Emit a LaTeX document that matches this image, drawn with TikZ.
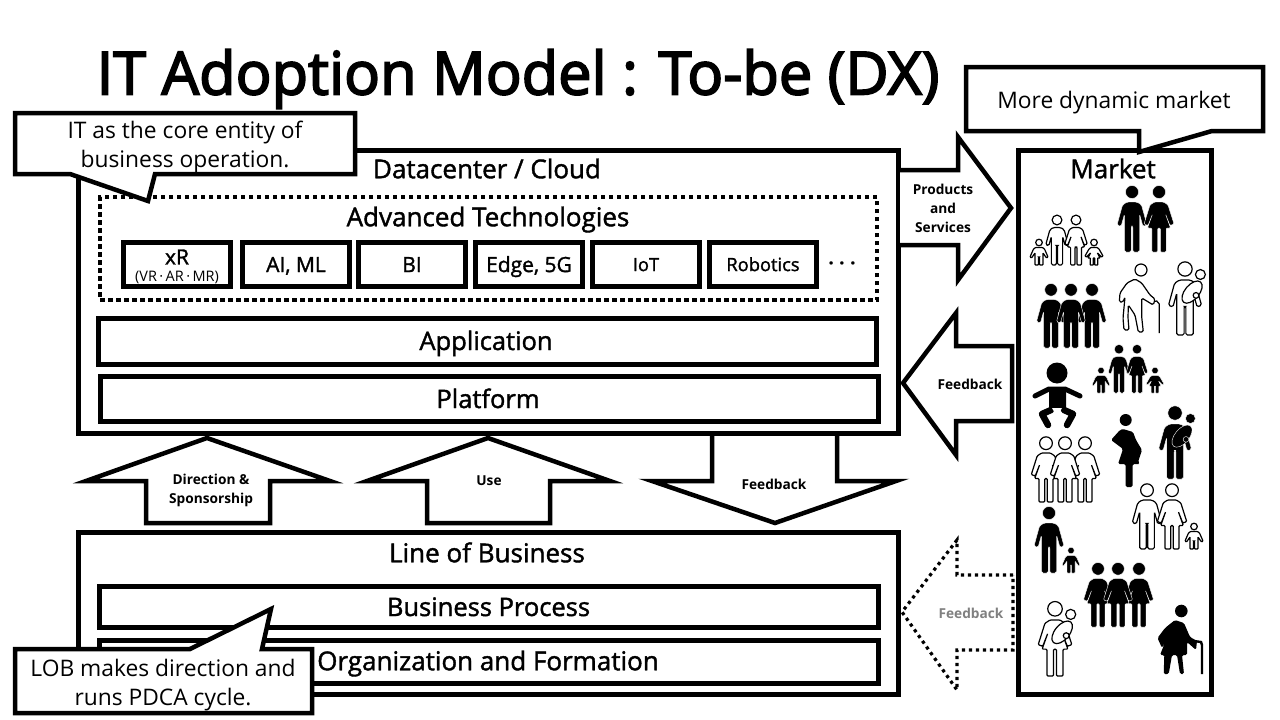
\documentclass[tikz,border=0pt]{standalone}
\usepackage{fontspec}
\setmainfont{Open Sans}
\newfontfamily\semifont[FakeBold=3]{Open Sans}
\newfontfamily\midfont[FakeBold=1.5]{Open Sans}
\tikzset{
	boxline/.style={draw,line width=4.5pt,fill=white},
	blockbox/.style={draw,line width=5pt,fill=white,inner sep=0pt},
	techbox/.style={draw,line width=5pt,fill=white,inner sep=0pt,minimum width=106.5pt,minimum height=44.5pt},
	blockarrow/.style={draw,line width=4.5pt,fill=white,miter limit=20},
	dotline/.style={line width=4.5pt,dash pattern=on 4.5pt off 3.5pt},
	headtext/.style={inner sep=0pt,text height=18.5pt,text depth=0pt,font=\midfont\fontsize{26}{26}\selectfont},
	boxtext/.style={inner sep=0pt,text height=18pt,text depth=0pt,font=\midfont\fontsize{25.5}{25.5}\selectfont},
	arrowtext/.style={inner sep=0pt,align=center,font=\bfseries\fontsize{13.7}{19}\selectfont},
	calltext/.style={inner sep=0pt,align=center,font=\fontsize{22.8}{29}\selectfont},
	solidfig/.style={fill=black,draw=white,line width=.4pt},
	linefig/.style={fill=white,draw=black,line width=1.2pt},
	pics/man/.style={code={
		\path[#1,rounded corners=1.5pt] (-5,-50) -- (5,-50) -- (9.5,-47) -- (15,-27) -- (11,-25.5) -- (7.5,-38) -- (7.5,0) -- (.8,0) -- (.8,-26) -- (-.8,-26) -- (-.8,0) -- (-7.5,0) -- (-7.5,-38) -- (-11,-25.5) -- (-15,-27) -- (-9.5,-47) -- cycle;
		\path[#1] (0,-60) circle (6.5);
	}},
	pics/woman/.style={code={
		\path[#1,rounded corners=1pt] (-4.5,-50) -- (4.5,-50) -- (9,-47) -- (15,-28) -- (11,-26.5) -- (6.5,-38) -- (11.5,-24) -- (7.2,-24) -- (7.2,0) -- (1.3,0) -- (1.3,-24) -- (-1.3,-24) -- (-1.3,0) -- (-7.2,0) -- (-7.2,-24) -- (-11.5,-24) -- (-6.5,-38) -- (-11,-26.5) -- (-15,-28) -- (-9,-47) -- cycle;
		\path[#1] (0,-60) circle (6.5);
	}},
	pics/boy/.style={code={
		\path[#1,rounded corners=.7pt] (-3.5,-17.5) -- (3.5,-17.5) -- (5.5,-16) -- (9,-8) -- (7.5,-7) -- (4,-12) -- (4,0) -- (.5,0) -- (.5,-8) -- (-.5,-8) -- (-.5,0) -- (-4,0) -- (-4,-12) -- (-7.5,-7) -- (-9,-8) -- (-5.5,-16) -- cycle;
		\path[#1] (0,-22.5) circle (3.3);
	}},
	pics/girl/.style={code={
		\path[#1,rounded corners=.5pt] (-3,-17.5) -- (3,-17.5) -- (5,-16) -- (9,-9) -- (7.5,-8) -- (3.5,-12) -- (6,-7) -- (3.8,-7) -- (3.8,0) -- (.7,0) -- (.7,-7) -- (-.7,-7) -- (-.7,0) -- (-3.8,0) -- (-3.8,-7) -- (-6,-7) -- (-3.5,-12) -- (-7.5,-8) -- (-9,-9) -- (-5,-16) -- cycle;
		\path[#1] (0,-22.5) circle (3.3);
	}},
	pics/carried/.style={code={
		\path[#1,rotate around={50:(6.4,-39)}] (6.4,-39) ellipse (12 and 6.5);
		\path[#1] (14,-55) circle (4.5);
		\path[#1] (10,-36) circle (2.6);
	}},
	pics/elderman/.style={code={
		\draw[line width=1.2pt] (18.7,-31) -- (23.7,-32) -- (26.3,-29) -- (26.3,0);
		\path[linefig,rounded corners=1.5pt] (2,-54) -- (8.7,-50) -- (17,-38) -- (22,-34) -- (20.3,-28) -- (8.7,-35) -- (8.7,-16) -- (10.3,-1) -- (5.3,-1) -- (2,-18) -- (-4.7,-28) -- (-5,-15) -- (-4,-3) -- (-9,-3) -- (-10,-15) -- (-8,-36) -- (-10,-31) -- (-13.7,-31) -- (-13,-40) -- (-6,-50) -- cycle;
		\path[linefig] (8,-63) circle (6);
	}},
	pics/elderwoman/.style={code={
		\draw[line width=2.4pt] (17,-33) -- (24,-32) -- (25,-29) -- (25,0);
		\path[fill=black,rounded corners=1.5pt] (-2,-54) -- (7,-51) -- (13,-37) -- (20,-33) -- (19,-24) -- (10,-32) -- (10,-19) -- (5,-19) -- (7,0) -- (3,0) -- (0,-19) -- (-5,-19) -- (-8.3,0) -- (-13.3,0) -- (-12.7,-19) -- (-17,-19) -- (-11,-34) -- (-15,-26) -- (-19.5,-36) -- (-12,-46) -- cycle;
		\path[fill=black] (4.3,-63) circle (6.3);
	}},
	pics/pregnant/.style={code={
		\path[fill=black,rounded corners=1.5pt] (-6,-58) -- (4,-55) -- (7,-47) -- (13,-37) -- (9,-25) -- (11,-23) -- (3.5,-23) -- (3.5,0) -- (-3.5,0) -- (-3.5,-23) -- (-11,-23) -- (-6,-38) -- (-18,-47) -- (-9,-57) -- cycle;
		\path[fill=black] (-3.3,-67) circle (6);
	}},
	pics/squatbaby/.style={code={
		\path[fill=black,rounded corners=2pt] (-8,-42) -- (9,-42) -- (9,-19) -- (-8,-19) -- cycle;
		\draw[line width=5pt,line cap=round,line join=round] (-22,-33) -- (-8,-40) -- (8,-40) -- (23,-33);
		\draw[line width=6.5pt,line cap=round,line join=round] (-6,-19) -- (-15,-15) -- (-9,-4);
		\draw[line width=6.5pt,line cap=round,line join=round] (7,-19) -- (16,-15) -- (10,-4);
		\path[fill=white] (-5,-21) -- (5,-21) -- (0,-12) -- cycle;
		\path[fill=black] (0,-56) circle (10.5);
	}}
}
\begin{document}
\begin{tikzpicture}[x=1pt,y=-1pt]
	\useasboundingbox (0,0) rectangle (1280,720);

	\node[inner sep=0pt,font=\semifont\fontsize{59.5}{59.5}\selectfont] (title) at (518,79) {IT Adoption Model : To-be (DX)};

	\node[blockbox,minimum width=820pt,minimum height=283pt] (datacenter) at (488,291.5) {};
	\node[headtext] (dclabel) at (487,169) {Datacenter / Cloud};
	\node[draw,dotline,inner sep=0pt,minimum width=777pt,minimum height=103pt] (advanced) at (488.5,248.5) {};
	\node[headtext] (advlabel) at (488,217) {Advanced Technologies};
	\foreach \x/\name/\label/\size in {
		296/aiml/{AI, ML}/21,
		412/bi/BI/21,
		529/edge/{Edge, 5G}/21,
		763/robotics/Robotics/18.3,
		646/iot/IoT/18.3
	}{
		\node[techbox,text height=.72*\size pt,text depth=0pt,font=\midfont\fontsize{\size}{\size}\selectfont] (\name) at (\x,264.5) {\label};
	}
	\node[techbox] (xr) at (177,264.5) {};
	\node[inner sep=0pt,font=\midfont\fontsize{21}{21}\selectfont] (xrlabel) at (177,257) {xR};
	\node[inner sep=0pt,font=\fontsize{14.5}{14.5}\selectfont] (xrsub) at (177,277) {(VR\,·\,AR\,·\,MR)};
	\node[inner sep=0pt,font=\bfseries\fontsize{20}{20}\selectfont] (moretech) at (842,266) {· · ·};
	\node[blockbox,minimum width=778pt,minimum height=46pt] (application) at (487,341) {};
	\node[boxtext] (applabel) at (486,341) {Application};
	\node[blockbox,minimum width=778pt,minimum height=45pt] (platform) at (489,398.5) {};
	\node[boxtext] (platlabel) at (488,399) {Platform};

	\node[blockbox,minimum width=820pt,minimum height=162pt] (lob) at (488,613) {};
	\node[headtext] (loblabel) at (487,553) {Line of Business};
	\node[blockbox,minimum width=779pt,minimum height=41pt] (process) at (488.5,606.5) {};
	\node[boxtext] (proclabel) at (488.5,607) {Business Process};
	\node[blockbox,minimum width=779pt,minimum height=43pt] (orgbox) at (488.5,661.5) {};
	\node[headtext] (orglabel) at (488,661) {Organization and Formation};

	\draw[blockarrow] (146,523) -- (146,481) -- (86,481) -- (207,438) -- (330,481) -- (270,481) -- (270,523) -- cycle;
	\node[arrowtext] (direction) at (211,490) {Direction \&\\Sponsorship};
	\draw[blockarrow] (427,523) -- (427,481) -- (367,481) -- (488,438) -- (610,481) -- (550,481) -- (550,523) -- cycle;
	\node[arrowtext] (use) at (489,481) {Use};
	\draw[blockarrow] (712,436) -- (712,481) -- (652,481) -- (775,523) -- (896,481) -- (837,481) -- (837,436);
	\node[arrowtext] (fbdown) at (774,484) {Feedback};

	\draw[blockarrow] (900,170) -- (958,170) -- (958,137) -- (1011,208) -- (958,280) -- (958,245) -- (900,245);
	\node[arrowtext] (products) at (943,208.5) {Products\\and\\Services};
	\draw[blockarrow] (1012,346) -- (956,346) -- (956,313) -- (903,383) -- (956,455) -- (956,421) -- (1012,421) -- cycle;
	\node[arrowtext] (fbright) at (970,384) {Feedback};
	\draw[dotline,line width=3.2pt,dash pattern=on 3.2pt off 3.8pt] (1013,575) -- (957,575) -- (957,540) -- (902,612) -- (957,690) -- (957,650) -- (1013,650) -- cycle;
	\node[arrowtext,text=gray] (fbdotted) at (971,613) {Feedback};

	\node[blockbox,minimum width=193pt,minimum height=544pt] (market) at (1114.5,422) {};
	\node[headtext] (marketlabel) at (1113,169) {Market};

	\foreach \x/\y/\s in {
		1132/252/1,
		1051/348/.97, 1092/348/.97, 1071/348/.97,
		1119/393/.73,
		1049/573/1
	}{
		\pic[scale=\s] at (\x,\y) {man=solidfig};
	}
	\foreach \x/\y/\s in {
		1159/252/1,
		1137/393/.73,
		1098/627/.97, 1139/627/.97, 1118/627/.97
	}{
		\pic[scale=\s] at (\x,\y) {woman=solidfig};
	}
	\foreach \x/\y/\s in {
		1057/265/.75,
		1147/549/.98,
		1185/335/1.1
	}{
		\pic[scale=\s] at (\x,\y) {man=linefig};
	}
	\foreach \x/\y/\s in {
		1076/265/.75,
		1046/502/.98, 1085/502/.98, 1065/502/.98,
		1172/549/.98,
		1055/676/1.12
	}{
		\pic[scale=\s] at (\x,\y) {woman=linefig};
	}
	\pic at (1039,265) {boy=linefig};
	\pic at (1094,265) {girl=linefig};
	\pic at (1194,549) {boy=linefig};
	\pic at (1101,393) {boy=solidfig};
	\pic at (1155,393) {girl=solidfig};
	\pic at (1071,573) {boy=solidfig};
	\pic[scale=1.1] at (1185,335) {carried=linefig};
	\pic[scale=1.12] at (1055,676) {carried=linefig};
	\pic[scale=1.1] at (1175,479) {man=solidfig};
	\pic[scale=1.1] at (1175,479) {carried=solidfig};
	\pic at (1133,333) {elderman};
	\pic at (1177,674) {elderwoman};
	\pic at (1129,487) {pregnant};
	\pic at (1057,429) {squatbaby};

	\draw[boxline,miter limit=20] (15,113) -- (355,113) -- (355,174) -- (155,174) -- (148,201) -- (70,174) -- (15,174) -- cycle;
	\node[calltext] (itnote) at (185,147) {IT as the core entity of\\business operation.};
	\draw[boxline,miter limit=20] (966,67) -- (1263,67) -- (1263,131) -- (1212,131) -- (1139,152) -- (1139,131) -- (966,131) -- cycle;
	\node[calltext] (marketnote) at (1114,103) {More dynamic market};
	\draw[boxline,miter limit=20] (15,649) -- (190,649) -- (271,609) -- (262,649) -- (312,649) -- (312,713) -- (15,713) -- cycle;
	\node[calltext] (lobnote) at (163,685) {LOB makes direction and\\runs PDCA cycle.};
\end{tikzpicture}
\end{document}
